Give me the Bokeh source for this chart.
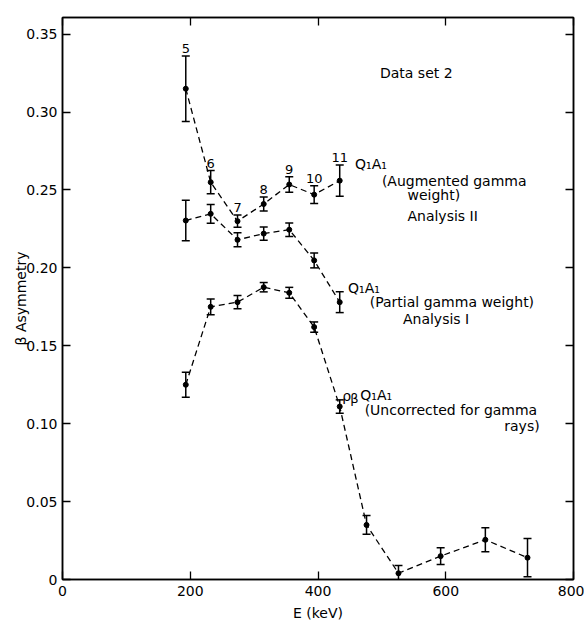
from bokeh.plotting import figure
from bokeh.models import (ColumnDataSource, Whisker, TeeHead, LinearAxis, FixedTicker,
                          Range1d)
from bokeh.core.properties import value
from bokeh.embed import file_html
from bokeh.resources import INLINE

# ---------------- data ----------------
energy = [193, 232, 274, 315, 355, 394, 434]
energy_ext = [193, 232, 274, 315, 355, 394, 434, 476, 526, 592, 662, 728]

# Q1A1 (Augmented gamma weight) Analysis II, run numbers 5..11
aug_y = [0.315, 0.255, 0.230, 0.241, 0.2535, 0.247, 0.256]
aug_err = [0.021, 0.0075, 0.004, 0.0045, 0.005, 0.0057, 0.010]
run_labels = ["5", "6", "7", "8", "9", "10", "11"]

# Q1A1 (Partial gamma weight) Analysis I
par_y = [0.2304, 0.2347, 0.218, 0.222, 0.2245, 0.2048, 0.178]
par_err = [0.013, 0.006, 0.0045, 0.0043, 0.0043, 0.0048, 0.0067]

# rho_beta Q1A1 (Uncorrected for gamma rays)
unc_y = [0.125, 0.175, 0.178, 0.1876, 0.184, 0.162, 0.111, 0.035, 0.004, 0.015, 0.0255, 0.014]
unc_err = [0.008, 0.005, 0.0043, 0.003, 0.0035, 0.0033, 0.0043, 0.006, 0.005, 0.0053, 0.0077, 0.0123]

x_ticks = [0, 200, 400, 600, 800]
y_ticks = [0, 0.05, 0.10, 0.15, 0.20, 0.25, 0.30, 0.35]
y_tick_labels = ["0", "0.05", "0.10", "0.15", "0.20", "0.25", "0.30", "0.35"]

FONT = "DejaVu Sans"

p = figure(width=584, height=626, output_backend="svg", toolbar_location=None,
           x_range=Range1d(0, 800), y_range=Range1d(0, 0.3607),
           min_border_left=62, min_border_right=11, min_border_top=17, min_border_bottom=47,
           background_fill_color="white", border_fill_color="white")
p.xgrid.visible = False
p.ygrid.visible = False
p.outline_line_color = "black"
p.outline_line_width = 1.5

def style_axis(ax, show_labels):
    ax.axis_line_color = "black"
    ax.axis_line_width = 1.5
    ax.major_tick_in = 8
    ax.major_tick_out = 0
    ax.major_tick_line_color = "black"
    ax.major_tick_line_width = 1.3
    ax.minor_tick_line_color = None
    ax.major_label_text_font = FONT
    ax.major_label_text_font_size = "14px"
    ax.major_label_text_color = "black"
    ax.axis_label_text_font = FONT
    ax.axis_label_text_font_size = "14px"
    ax.axis_label_text_font_style = "normal"
    ax.axis_label_text_color = "black"
    if not show_labels:
        ax.major_label_text_color = None
        ax.major_label_text_alpha = 0
        ax.major_label_standoff = 0

xa = p.xaxis[0]
ya = p.yaxis[0]
style_axis(xa, True)
style_axis(ya, True)
xa.ticker = FixedTicker(ticks=x_ticks)
ya.ticker = FixedTicker(ticks=y_ticks)
ya.major_label_overrides = {t: l for t, l in zip(y_ticks, y_tick_labels)}
xa.axis_label = "E (keV)"
ya.axis_label = "β Asymmetry"
xa.major_label_standoff = 6
ya.major_label_standoff = 5
xa.axis_label_standoff = 6
ya.axis_label_standoff = -6

top = LinearAxis(ticker=FixedTicker(ticks=x_ticks))
style_axis(top, False)
p.add_layout(top, "above")
right = LinearAxis(ticker=FixedTicker(ticks=y_ticks))
style_axis(right, False)
p.add_layout(right, "right")

def series(xs, ys, errs):
    src = ColumnDataSource(dict(x=xs, y=ys,
                                lo=[a - b for a, b in zip(ys, errs)],
                                hi=[a + b for a, b in zip(ys, errs)]))
    p.line("x", "y", source=src, line_color="black", line_width=1.3, line_dash="6 4")
    w = Whisker(source=src, base="x", upper="hi", lower="lo", dimension="height",
                line_color="black", line_width=1.5,
                upper_head=TeeHead(size=8, line_color="black", line_width=1.5),
                lower_head=TeeHead(size=8, line_color="black", line_width=1.5))
    p.add_layout(w)
    p.scatter("x", "y", source=src, size=5, color="black")
    return src

series(energy, aug_y, aug_err)
series(energy, par_y, par_err)
series(energy_ext, unc_y, unc_err)

# run-number labels above the error bars of the augmented series
lab_src = ColumnDataSource(dict(x=energy, y=[a + b for a, b in zip(aug_y, aug_err)], t=run_labels))
p.text("x", "y", text="t", source=lab_src, text_align="center", text_baseline="bottom",
       y_offset=-3, text_font=value(FONT), text_font_size="13px", text_color="black")

def note(x, y, t, size="14px", align="left", dx=0, dy=0):
    p.text(x=[x], y=[y], text=[t], text_align=align, text_baseline="middle",
           x_offset=dx, y_offset=dy,
           text_font=value(FONT), text_font_size=size, text_color="black")

note(497, 0.3248, "Data set 2")
note(458, 0.2664, "Q₁A₁")
note(500, 0.2560, "(Augmented gamma")
note(540, 0.2465, "weight)")
note(540, 0.2336, "Analysis II")
note(447, 0.1874, "Q₁A₁")
note(481, 0.1784, "(Partial gamma weight)")
note(533, 0.1675, "Analysis I")
note(438, 0.1187, "ρ", dy=1)
note(438, 0.1187, "β", "13px", dx=8, dy=4)
note(438, 0.1187, "Q₁A₁", dx=18)
note(473, 0.1090, "(Uncorrected for gamma")
note(747, 0.0988, "rays)", align="right")

open("out.html", "w").write(file_html(p, INLINE))
